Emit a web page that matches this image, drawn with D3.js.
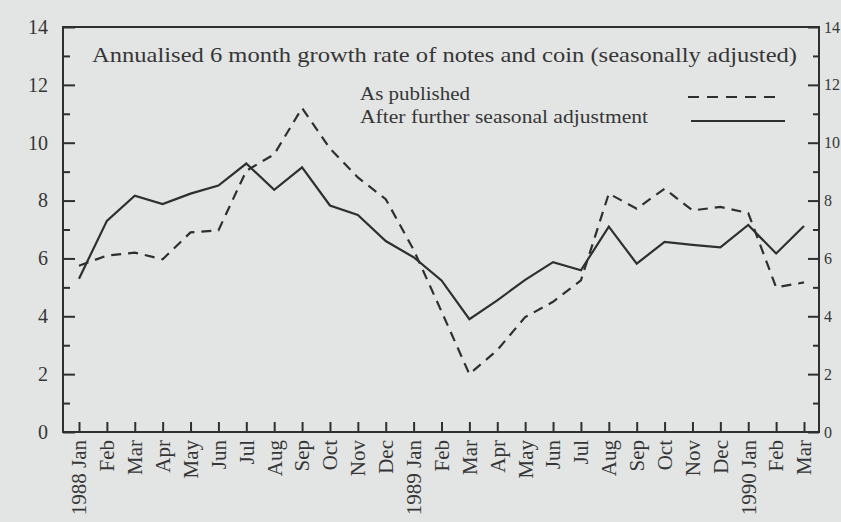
<!DOCTYPE html>
<html>
<head>
<meta charset="utf-8">
<script src="https://cdn.jsdelivr.net/npm/d3@7"></script>
<style>
  html, body { margin: 0; padding: 0; background: #e3e5e4; overflow: hidden; }
  svg { display: block; }
</style>
</head>
<body>
<svg id="chart" width="841" height="522"></svg>
<script>
// ---- data ----
const monthLabels = ["1988 Jan","Feb","Mar","Apr","May","Jun","Jul","Aug","Sep","Oct","Nov","Dec",
                     "1989 Jan","Feb","Mar","Apr","May","Jun","Jul","Aug","Sep","Oct","Nov","Dec",
                     "1990 Jan","Feb","Mar"];
const asPublished = [5.75, 6.1, 6.2, 5.97, 6.9, 6.97, 9.03, 9.6, 11.2, 9.8, 8.8, 8.05,
                     6.3, 4.17, 2.0, 2.83, 3.97, 4.5, 5.24, 8.24, 7.72, 8.41, 7.66, 7.78,
                     7.57, 5.0, 5.17];
const afterAdjustment = [5.3, 7.3, 8.17, 7.88, 8.24, 8.52, 9.28, 8.37, 9.15, 7.83, 7.5, 6.6,
                         6.04, 5.24, 3.9, 4.55, 5.26, 5.87, 5.59, 7.1, 5.82, 6.57, 6.47, 6.38,
                         7.16, 6.17, 7.12];
const majorTicks = [0, 2, 4, 6, 8, 10, 12, 14];
const minorTicks = [1, 3, 5, 7, 9, 11, 13];
const titleText = "Annualised 6 month growth rate of notes and coin (seasonally adjusted)";
const legendLabels = ["As published", "After further seasonal adjustment"];

// ---- layout ----
const svg = d3.select("#chart");
const ink = "#2f2f2f";
const textInk = "#363636";
const font = "'Liberation Serif', 'Times New Roman', serif";
const plotL = 63, plotR = 819, plotT = 27, plotB = 432;

const idx = d3.range(monthLabels.length);
const x = d3.scalePoint().domain(idx).range([79, 804]).padding(0);
const y = d3.scaleLinear().domain([0, 14]).range([plotB, plotT]);

svg.append("rect").attr("width", 841).attr("height", 522).attr("fill", "#e3e5e4");

// frame
svg.append("rect")
  .attr("x", plotL).attr("y", plotT)
  .attr("width", plotR - plotL).attr("height", plotB - plotT)
  .attr("fill", "none").attr("stroke", ink).attr("stroke-width", 2);

function styleAxis(g) {
  g.select(".domain").remove();
  g.selectAll("line").attr("stroke", ink).attr("stroke-width", 2);
  g.selectAll("text").attr("fill", textInk).style("font-family", font);
}

// left axis ticks (inward)
svg.append("g").attr("transform", `translate(${plotL},0)`)
  .call(d3.axisRight(y).tickValues(majorTicks).tickSize(12).tickFormat(""))
  .call(styleAxis);
svg.append("g").attr("transform", `translate(${plotL},0)`)
  .call(d3.axisRight(y).tickValues(minorTicks).tickSize(7).tickFormat(""))
  .call(styleAxis);
svg.append("g").attr("transform", `translate(${plotL},0)`)
  .call(d3.axisLeft(y).tickValues(majorTicks).tickSize(0).tickPadding(15).tickFormat(d3.format("d")))
  .call(styleAxis)
  .selectAll("text").style("font-size", "20px");

// right axis ticks (inward)
svg.append("g").attr("transform", `translate(${plotR},0)`)
  .call(d3.axisLeft(y).tickValues(majorTicks).tickSize(11).tickFormat(""))
  .call(styleAxis);
svg.append("g").attr("transform", `translate(${plotR},0)`)
  .call(d3.axisLeft(y).tickValues(minorTicks).tickSize(6).tickFormat(""))
  .call(styleAxis);
svg.append("g").attr("transform", `translate(${plotR},0)`)
  .call(d3.axisRight(y).tickValues(majorTicks).tickSize(0).tickPadding(5).tickFormat(d3.format("d")))
  .call(styleAxis)
  .selectAll("text").style("font-size", "16px");

// bottom axis ticks (upward)
svg.append("g").attr("transform", `translate(0,${plotB})`)
  .call(d3.axisTop(x).tickSize(10).tickFormat(""))
  .call(styleAxis);

// rotated month labels
svg.append("g").selectAll("text")
  .data(idx)
  .join("text")
  .attr("transform", d => `translate(${x(d)},${plotB + 8}) rotate(-90)`)
  .attr("text-anchor", "end")
  .attr("dy", "0.35em")
  .attr("fill", textInk)
  .style("font-family", font)
  .style("font-size", "21px")
  .text(d => monthLabels[d]);

// lines
const line = d3.line().x((d, i) => x(i)).y(d => y(d));
svg.append("path").datum(asPublished)
  .attr("d", line).attr("fill", "none")
  .attr("stroke", ink).attr("stroke-width", 2.2)
  .attr("stroke-dasharray", "10,7");
svg.append("path").datum(afterAdjustment)
  .attr("d", line).attr("fill", "none")
  .attr("stroke", ink).attr("stroke-width", 2.2);

// title
svg.append("text")
  .attr("x", 92).attr("y", 62)
  .attr("fill", textInk)
  .attr("textLength", 705).attr("lengthAdjust", "spacingAndGlyphs")
  .style("font-family", font).style("font-size", "21px")
  .text(titleText);

// legend
const legendY = [100, 123];
const legendW = [110, 288];
legendLabels.forEach((lab, i) => {
  svg.append("text")
    .attr("x", 360).attr("y", legendY[i])
    .attr("fill", textInk)
    .attr("textLength", legendW[i]).attr("lengthAdjust", "spacingAndGlyphs")
    .style("font-family", font).style("font-size", "18px")
    .text(lab);
});
svg.append("line")
  .attr("x1", 688).attr("x2", 781).attr("y1", 97).attr("y2", 97)
  .attr("stroke", ink).attr("stroke-width", 2).attr("stroke-dasharray", "11,8");
svg.append("line")
  .attr("x1", 691).attr("x2", 785).attr("y1", 121).attr("y2", 121)
  .attr("stroke", ink).attr("stroke-width", 2.2);
</script>
</body>
</html>
